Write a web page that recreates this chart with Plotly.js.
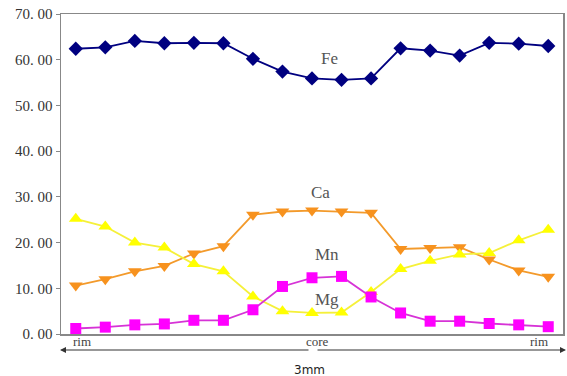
<!DOCTYPE html>
<html><head><meta charset="utf-8">
<script src="https://cdn.plot.ly/plotly-3.0.1.min.js"></script>
<style>html,body{margin:0;padding:0;background:#fff}</style>
</head><body><div id="c" style="width:567px;height:376px"></div>
<script>
const positions = [0,1,2,3,4,5,6,7,8,9,10,11,12,13,14,15,16];
const fe = [62.4,62.7,64.1,63.6,63.7,63.6,60.2,57.4,55.9,55.6,55.9,62.5,62.0,60.9,63.7,63.5,63.0];
const ca = [10.6,12.0,13.7,14.9,17.6,19.2,26.1,26.8,27.0,26.8,26.5,18.6,18.8,19.0,16.3,13.9,12.5];
const yellowSeries = [25.2,23.5,20.0,18.9,15.3,13.7,8.2,5.0,4.6,4.7,9.2,14.2,16.0,17.4,17.7,20.5,22.8];
const magentaSeries = [1.2,1.5,2.0,2.2,3.0,3.0,5.3,10.4,12.3,12.6,8.1,4.6,2.8,2.8,2.3,2.0,1.6];
const yTickVals = [0,10,20,30,40,50,60,70];
const yTickText = ["0. 00","10. 00","20. 00","30. 00","40. 00","50. 00","60. 00","70. 00"];
const seriesLabels = [{t:"Fe",x:8.6,y:60.3},{t:"Ca",x:8.3,y:31},{t:"Mn",x:8.5,y:17.4},{t:"Mg",x:8.5,y:7.5}];
const xLabels = [{t:"rim",x:0.02},{t:"core",x:0.51},{t:"rim",x:0.975}];

const serif = 'Liberation Serif';
const traces = [
 {x:positions,y:fe,mode:'lines+markers',line:{color:'#000080',width:1.8},marker:{symbol:'diamond',size:11,color:'#000080'}},
 {x:positions,y:ca,mode:'lines+markers',line:{color:'#F39A2B',width:1.8},marker:{symbol:'triangle-down',size:12,color:'#F7921E'}},
 {x:positions,y:yellowSeries,mode:'lines+markers',line:{color:'#F5F03A',width:1.8},marker:{symbol:'triangle-up',size:12,color:'#FFFF00'}},
 {x:positions,y:magentaSeries,mode:'lines+markers',line:{color:'#D633D6',width:1.8},marker:{symbol:'square',size:11,color:'#FF00FF'}}
];
const ann = [];
seriesLabels.forEach(s=>ann.push({x:s.x,y:s.y,xref:'x',yref:'y',text:s.t,showarrow:false,font:{family:serif,size:17,color:'#555'}}));
xLabels.forEach(s=>ann.push({x:s.x,y:-0.024,xref:'paper',yref:'paper',yanchor:'middle',text:s.t,showarrow:false,font:{family:serif,size:13,color:'#444'}}));
ann.push({x:-0.002,y:-0.05,xref:'paper',yref:'paper',ax:250,ay:0,text:'',showarrow:true,arrowhead:2,arrowsize:1,arrowwidth:1.2,arrowcolor:'#333'});
ann.push({x:1.006,y:-0.05,xref:'paper',yref:'paper',ax:-250,ay:0,text:'',showarrow:true,arrowhead:2,arrowsize:1,arrowwidth:1.2,arrowcolor:'#333'});
ann.push({x:0.495,y:-0.112,xref:'paper',yref:'paper',yanchor:'middle',text:'3mm',showarrow:false,font:{family:'DejaVu Sans',size:12,color:'#222'}});

const layout = {
 width:567,height:376,margin:{l:61,r:4,t:14,b:42},
 font:{family:serif,size:15,color:'#444'},
 paper_bgcolor:'#fff',plot_bgcolor:'#fff',showlegend:false,
 xaxis:{range:[-0.5,16.5],showticklabels:false,ticks:'',showgrid:false,zeroline:false,showline:true,linecolor:'#888',linewidth:1.5,mirror:true},
 yaxis:{range:[0,70],tickvals:yTickVals,ticktext:yTickText,ticks:'outside',ticklen:4,tickcolor:'#888',showgrid:false,zeroline:false,showline:true,linecolor:'#888',linewidth:1.5,mirror:true,tickfont:{family:serif,size:15,color:'#333'}},
 annotations:ann
};
Plotly.newPlot('c',traces,layout,{displayModeBar:false,staticPlot:true});
</script></body></html>
